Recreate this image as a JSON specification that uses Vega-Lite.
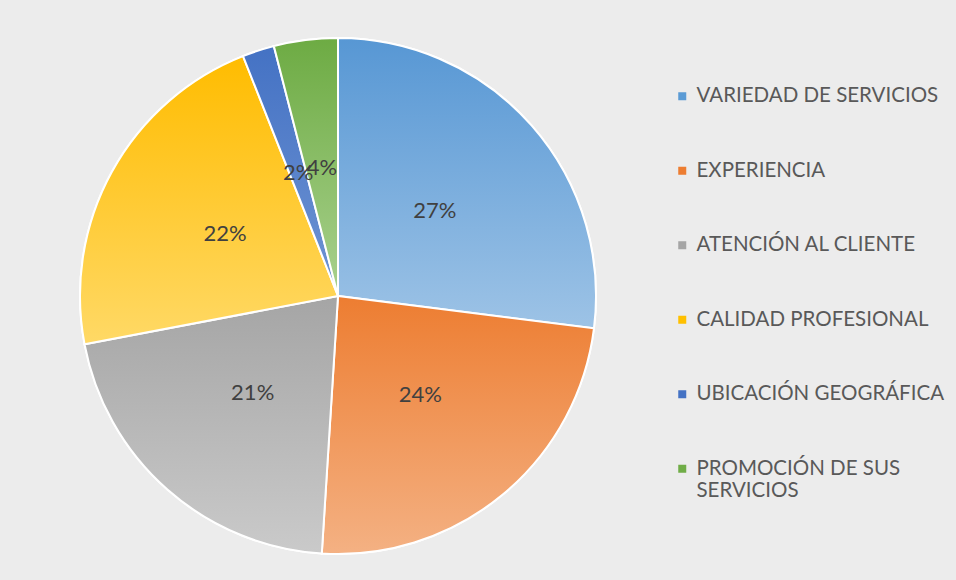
{
  "$schema": "https://vega.github.io/schema/vega-lite/v6.json",
  "width": 656,
  "height": 568,
  "autosize": "none",
  "padding": {"left": 10, "top": 12, "right": 290, "bottom": 0},
  "background": "#ececec",
  "config": {"view": {"stroke": null}, "font": "Lato"},
  "data": {
    "values": [
      {"categoria": "VARIEDAD DE SERVICIOS", "valor": 0.27, "orden": 1},
      {"categoria": "EXPERIENCIA", "valor": 0.24, "orden": 2},
      {"categoria": "ATENCIÓN AL CLIENTE", "valor": 0.21, "orden": 3},
      {"categoria": "CALIDAD PROFESIONAL", "valor": 0.22, "orden": 4},
      {"categoria": "UBICACIÓN GEOGRÁFICA", "valor": 0.02, "orden": 5},
      {"categoria": "PROMOCIÓN DE SUS SERVICIOS", "valor": 0.04, "orden": 6}
    ]
  },
  "transform": [
    {"stack": "valor", "groupby": [], "sort": [{"field": "orden", "order": "ascending"}], "as": ["v0", "v1"]}
  ],
  "layer": [
    {
      "mark": {"type": "arc", "outerRadius": 258, "stroke": "white", "strokeWidth": 2},
      "encoding": {
        "theta": {"field": "v0", "type": "quantitative", "scale": {"domain": [0, 1]}},
        "theta2": {"field": "v1"},
        "color": {
          "field": "categoria",
          "type": "nominal",
          "scale": {
            "domain": ["VARIEDAD DE SERVICIOS", "EXPERIENCIA", "ATENCIÓN AL CLIENTE", "CALIDAD PROFESIONAL", "UBICACIÓN GEOGRÁFICA", "PROMOCIÓN DE SUS SERVICIOS"],
            "range": ["#5B9BD5", "#ED7D31", "#A5A5A5", "#FFC000", "#4472C4", "#70AD47"]
          },
          "legend": {
            "orient": "none",
            "legendX": 662,
            "legendY": 74,
            "title": null,
            "padding": 0,
            "symbolType": "square",
            "symbolSize": 64,
            "symbolStrokeWidth": 0,
            "labelFontSize": 20.5,
            "labelColor": "#595959",
            "labelOffset": 4,
            "labelLimit": 400,
            "rowPadding": 53.5,
            "labelExpr": "datum.label == 'PROMOCIÓN DE SUS SERVICIOS' ? ['PROMOCIÓN DE SUS', 'SERVICIOS'] : datum.label"
          }
        }
      }
    },
    {
      "transform": [{"filter": {"field": "categoria", "equal": "VARIEDAD DE SERVICIOS"}}],
      "mark": {"type": "arc", "outerRadius": 258, "stroke": "white", "strokeWidth": 2,
        "fill": {"gradient": "linear", "x1": 0, "y1": 0, "x2": 0, "y2": 1, "stops": [{"offset": 0, "color": "#5797D4"}, {"offset": 1, "color": "#9DC3E6"}]}},
      "encoding": {"theta": {"field": "v0", "type": "quantitative"}, "theta2": {"field": "v1"}}
    },
    {
      "transform": [{"filter": {"field": "categoria", "equal": "EXPERIENCIA"}}],
      "mark": {"type": "arc", "outerRadius": 258, "stroke": "white", "strokeWidth": 2,
        "fill": {"gradient": "linear", "x1": 0, "y1": 0, "x2": 0, "y2": 1, "stops": [{"offset": 0, "color": "#ED7D31"}, {"offset": 1, "color": "#F4B183"}]}},
      "encoding": {"theta": {"field": "v0", "type": "quantitative"}, "theta2": {"field": "v1"}}
    },
    {
      "transform": [{"filter": {"field": "categoria", "equal": "ATENCIÓN AL CLIENTE"}}],
      "mark": {"type": "arc", "outerRadius": 258, "stroke": "white", "strokeWidth": 2,
        "fill": {"gradient": "linear", "x1": 0, "y1": 0, "x2": 0, "y2": 1, "stops": [{"offset": 0, "color": "#A5A5A5"}, {"offset": 1, "color": "#CACACA"}]}},
      "encoding": {"theta": {"field": "v0", "type": "quantitative"}, "theta2": {"field": "v1"}}
    },
    {
      "transform": [{"filter": {"field": "categoria", "equal": "CALIDAD PROFESIONAL"}}],
      "mark": {"type": "arc", "outerRadius": 258, "stroke": "white", "strokeWidth": 2,
        "fill": {"gradient": "linear", "x1": 0, "y1": 0, "x2": 0, "y2": 1, "stops": [{"offset": 0, "color": "#FFBC00"}, {"offset": 1, "color": "#FFD966"}]}},
      "encoding": {"theta": {"field": "v0", "type": "quantitative"}, "theta2": {"field": "v1"}}
    },
    {
      "transform": [{"filter": {"field": "categoria", "equal": "UBICACIÓN GEOGRÁFICA"}}],
      "mark": {"type": "arc", "outerRadius": 258, "stroke": "white", "strokeWidth": 2,
        "fill": {"gradient": "linear", "x1": 0, "y1": 0, "x2": 0, "y2": 1, "stops": [{"offset": 0, "color": "#4472C4"}, {"offset": 1, "color": "#6F94D3"}]}},
      "encoding": {"theta": {"field": "v0", "type": "quantitative"}, "theta2": {"field": "v1"}}
    },
    {
      "transform": [{"filter": {"field": "categoria", "equal": "PROMOCIÓN DE SUS SERVICIOS"}}],
      "mark": {"type": "arc", "outerRadius": 258, "stroke": "white", "strokeWidth": 2,
        "fill": {"gradient": "linear", "x1": 0, "y1": 0, "x2": 0, "y2": 1, "stops": [{"offset": 0, "color": "#6DAB43"}, {"offset": 1, "color": "#A9D18E"}]}},
      "encoding": {"theta": {"field": "v0", "type": "quantitative"}, "theta2": {"field": "v1"}}
    },
    {
      "mark": {"type": "text", "radius": 129, "fontSize": 22, "color": "#404040"},
      "encoding": {
        "theta": {"field": "valor", "type": "quantitative", "stack": true},
        "order": {"field": "orden", "type": "quantitative"},
        "text": {"field": "valor", "type": "quantitative", "format": ".0%"}
      }
    }
  ]
}
